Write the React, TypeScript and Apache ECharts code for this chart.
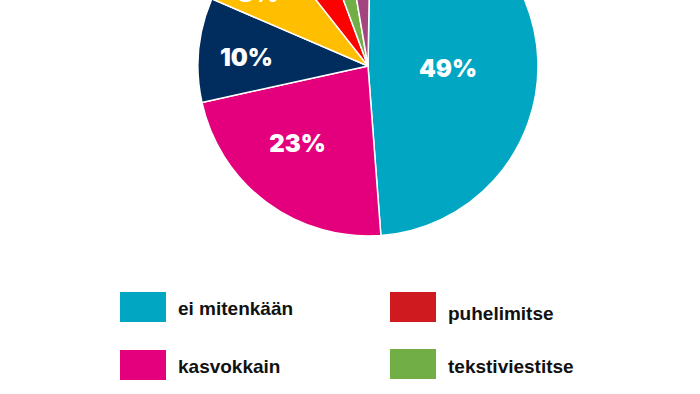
import React, { useEffect, useRef } from "react";
import * as echarts from "echarts";

const categories = [
  "ei mitenkään",
  "kasvokkain",
  "muu1",
  "muu2",
  "puhelimitse",
  "tekstiviestitse",
  "muu3",
];
const values = [49, 23, 10, 8, 5, 3, 3];
const sliceColors = ["#00A6C2", "#E4007C", "#002D5E", "#FFBF00", "#FF0000", "#72AE46", "#A3467F"];
const legendColors: Record<string, string> = {
  "ei mitenkään": "#00A6C2",
  kasvokkain: "#E4007C",
  puhelimitse: "#CF1A1F",
  tekstiviestitse: "#72AE46",
};
// label nudges (style)
const labelNudge = [
  [-8, 5],
  [-18, 7],
  [-34, 0],
  [-40, -19],
];

export default function App() {
  const ref = useRef<HTMLDivElement>(null);
  useEffect(() => {
    document.body.style.margin = "0";
    const chart = echarts.init(ref.current!, undefined, { renderer: "svg" });
    const legendFont = {
      fontFamily: "Liberation Sans, Arial, sans-serif",
      fontWeight: "bold" as const,
      fontSize: 19,
      color: "#111",
    };
    const mkLegend = (name: string, left: number, top: number, padTop: number) => ({
      data: [{ name, itemStyle: { color: legendColors[name] } }],
      left,
      top,
      padding: 0,
      itemWidth: 48,
      itemHeight: 32,
      icon: "rect",
      selectedMode: false,
      formatter: "{t|{name}}",
      textStyle: {
        ...legendFont,
        rich: { t: { ...legendFont, padding: [padTop, 0, 0, 6] } },
      },
    });
    chart.setOption({
      animation: false,
      backgroundColor: "#fff",
      legend: [
        mkLegend("ei mitenkään", 118, 290, 2),
        mkLegend("kasvokkain", 118, 348, 2),
        mkLegend("puhelimitse", 388, 290, 12),
        mkLegend("tekstiviestitse", 388, 347, 4),
      ],
      series: [
        {
          type: "pie",
          center: [368, 66],
          radius: [0, 170],
          startAngle: 89,
          clockwise: true,
          avoidLabelOverlap: false,
          itemStyle: { borderColor: "#fff", borderWidth: 1.5 },
          label: {
            position: "inside",
            color: "#fff",
            fontFamily: "Inter, Lato, sans-serif",
            fontWeight: 900,
            fontSize: 24,
            formatter: (p: any) => `${p.value}%`,
          },
          labelLayout: (p: any) => {
            const n = labelNudge[p.dataIndex];
            return n ? { dx: n[0], dy: n[1] } : {};
          },
          emphasis: { disabled: true },
          data: categories.map((c, i) => ({
            name: c,
            value: values[i],
            itemStyle: { color: sliceColors[i] },
            label: { show: i < 4 },
          })),
        },
      ],
    });
    return () => chart.dispose();
  }, []);
  return <div ref={ref} style={{ width: 700, height: 394 }} />;
}
